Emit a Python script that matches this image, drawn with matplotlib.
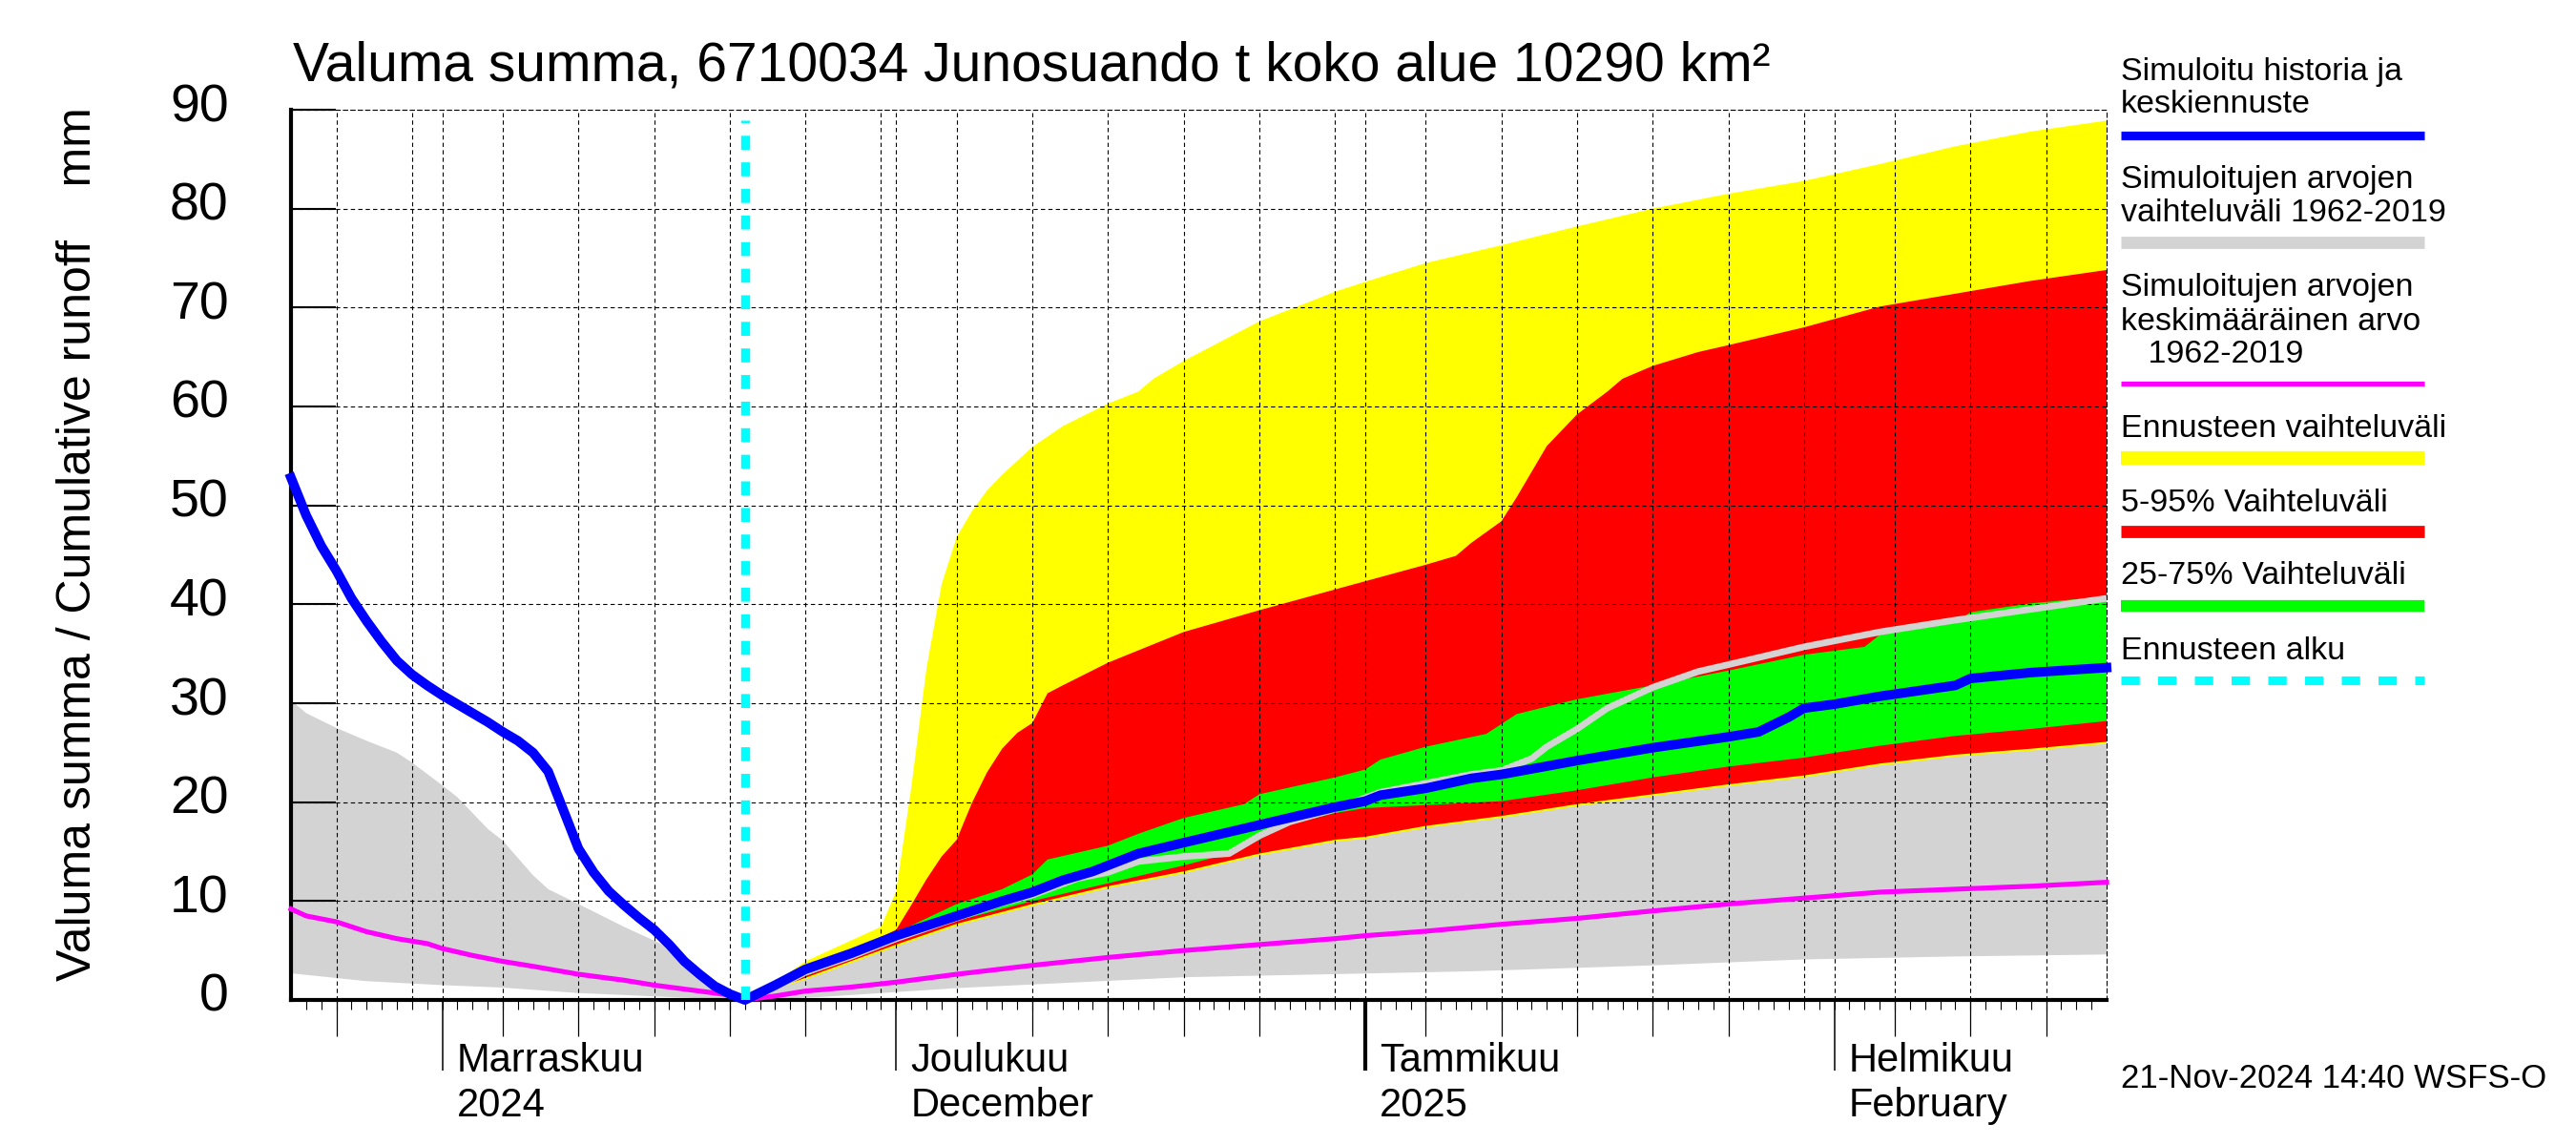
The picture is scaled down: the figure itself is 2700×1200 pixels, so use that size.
import datetime as dt
import numpy as np
import matplotlib
matplotlib.use("Agg")
import matplotlib.pyplot as plt
import matplotlib.dates as mdates
from matplotlib.lines import Line2D
from matplotlib.transforms import ScaledTranslation, blended_transform_factory

FONT = ["Liberation Sans", "DejaVu Sans"]
plt.rcParams["font.family"] = FONT

# ---------------- data (day offsets from 1 Nov 2024) ----------------
hist_days = [-10, -9, -8, -7, -6, -5, -4, -3, -2, -1, 0, 1, 2, 3, 4, 5, 6, 7, 8, 9,
             10, 11, 12, 13, 14, 15, 16, 17, 18, 19, 20]
hist_blue = [52.8, 49.0, 45.9, 43.4, 40.6, 38.3, 36.2, 34.3, 32.9, 31.8, 30.8, 29.9,
             29.0, 28.1, 27.1, 26.2, 25.0, 23.1, 19.2, 15.3, 12.9, 11.0, 9.6, 8.3,
             7.1, 5.6, 3.9, 2.6, 1.4, 0.6, 0.0]

fc_days = [20, 22, 24, 27, 30, 34, 37, 39, 41, 43, 44, 46, 49, 54, 59, 61, 62, 65,
           68, 70, 75, 80, 85, 87, 89, 90, 92, 95, 100, 101, 105, 110]
fc_blue = [0.0, 1.5, 3.1, 4.7, 6.5, 8.5, 10.0, 10.9, 12.1, 13.0, 13.6, 14.8, 15.9,
           17.7, 19.5, 20.1, 20.7, 21.4, 22.4, 22.8, 24.2, 25.5, 26.6, 27.1, 28.6,
           29.5, 29.9, 30.7, 31.8, 32.5, 33.1, 33.6]

mean_days = [-10, -9, -7, -5, -3, -1, 0, 2, 4, 6, 9, 12, 14, 17, 19, 20, 22, 24, 27,
             30, 34, 39, 44, 49, 54, 59, 61, 65, 70, 75, 80, 85, 90, 95, 100, 105, 110]
mean_vals = [9.2, 8.5, 7.9, 6.9, 6.2, 5.7, 5.2, 4.5, 3.9, 3.4, 2.6, 2.0, 1.5, 0.9,
             0.5, 0.0, 0.4, 0.9, 1.3, 1.8, 2.6, 3.5, 4.3, 5.0, 5.6, 6.2, 6.5, 6.95,
             7.65, 8.25, 9.0, 9.7, 10.3, 10.9, 11.2, 11.5, 11.9]

hmax_days = [-10, -9, -7, -5, -3, -2, 0, 1, 3, 4, 6, 7, 9, 12, 15, 17, 19, 20, 22,
             24, 27, 30, 34, 37, 39, 42, 44, 46, 49, 52, 54, 56, 59, 62, 65, 68, 70,
             72, 73, 75, 77, 80, 83, 85, 90, 95, 100, 105, 110]
hmax_vals = [30.3, 29.0, 27.5, 26.2, 25.0, 24.0, 21.7, 20.5, 17.3, 16.1, 12.6, 11.2,
             9.7, 7.4, 5.3, 2.5, 0.8, 0.0, 1.2, 2.8, 4.4, 6.2, 8.3, 9.8, 10.6, 12.3,
             12.9, 14.0, 14.5, 14.8, 16.6, 18.0, 19.3, 21.0, 21.9, 22.8, 23.2, 24.4,
             25.6, 27.4, 29.5, 31.6, 33.2, 33.9, 35.7, 37.2, 38.4, 39.5, 40.6]

hmin_days = [-10, -5, 0, 4, 9, 15, 20, 25, 34, 49, 68, 80, 90, 100, 110]
hmin_vals = [2.7, 1.9, 1.5, 1.25, 0.7, 0.3, 0.0, 0.3, 1.2, 2.3, 2.9, 3.5, 4.1, 4.4, 4.6]

ymax_days = [20, 22, 24, 27, 29, 30, 31, 32, 33, 34, 35, 36, 37, 39, 41, 44, 46, 47,
             49, 54, 59, 61, 65, 70, 75, 80, 85, 90, 95, 100, 105, 110]
ymax_vals = [0.0, 1.8, 3.9, 6.0, 7.4, 11.0, 21.5, 33.5, 42.0, 46.8, 49.4, 51.5, 53.1,
             55.9, 58.0, 60.3, 61.5, 62.8, 64.6, 68.6, 71.6, 72.6, 74.5, 76.3, 78.2,
             80.0, 81.5, 82.8, 84.5, 86.3, 87.8, 88.9]

ymin_days = [20, 25, 30, 34, 39, 44, 49, 54, 59, 61, 65, 70, 75, 80, 85, 90, 95, 100,
             105, 110]
ymin_vals = [0.0, 2.6, 5.4, 7.5, 9.5, 11.3, 12.8, 14.6, 16.0, 16.3, 17.4, 18.4, 19.6,
             20.6, 21.6, 22.5, 23.7, 24.6, 25.2, 25.9]

r95_days = [20, 24, 28, 30, 31, 32, 33, 34, 35, 36, 37, 38, 39, 40, 41, 44, 49, 54,
            59, 65, 67, 68, 70, 71, 73, 75, 77, 78, 80, 83, 85, 90, 95, 100, 105, 110]
r95_vals = [0.0, 3.3, 5.6, 7.1, 9.6, 12.2, 14.5, 16.2, 19.9, 23.0, 25.4, 27.0, 28.0,
            31.0, 31.8, 34.1, 37.2, 39.4, 41.5, 44.0, 44.9, 46.2, 48.4, 50.8, 56.0,
            59.2, 61.5, 62.8, 64.1, 65.5, 66.2, 68.0, 70.1, 71.4, 72.7, 73.8]

r05_days = [20, 25, 30, 34, 39, 44, 49, 54, 59, 61, 65, 70, 75, 80, 85, 90, 95, 100,
            105, 110]
r05_vals = [0.0, 2.8, 5.6, 7.7, 9.7, 11.5, 13.0, 14.8, 16.2, 16.5, 17.6, 18.6, 19.8,
            20.8, 21.8, 22.7, 23.9, 24.8, 25.4, 26.1]

g75_days = [20, 25, 30, 34, 37, 39, 40, 44, 46, 49, 53, 54, 59, 61, 62, 65, 69, 71,
            75, 80, 85, 90, 94, 95, 100, 101, 105, 110]
g75_vals = [0.0, 3.8, 6.8, 9.7, 11.2, 12.7, 14.2, 15.6, 16.8, 18.4, 19.8, 20.8, 22.5,
            23.3, 24.3, 25.6, 26.9, 28.9, 30.4, 31.8, 33.3, 34.9, 35.7, 36.9, 38.1,
            39.2, 40.1, 40.8]

g25_days = [20, 25, 30, 34, 39, 44, 49, 52, 54, 55, 59, 61, 65, 70, 75, 80, 85, 90,
            95, 100, 105, 110]
g25_vals = [0.0, 3.0, 6.0, 8.0, 10.0, 11.8, 13.6, 14.8, 16.2, 17.4, 18.9, 19.4, 19.7,
            20.1, 21.2, 22.5, 23.6, 24.5, 25.7, 26.7, 27.4, 28.2]

month_starts = ["2024-11-01", "2024-12-01", "2025-01-01", "2025-02-01"]
month_names = ["Marraskuu", "Joulukuu", "Tammikuu", "Helmikuu"]
month_sub = ["2024", "December", "2025", "February"]
y_ticks = [0, 10, 20, 30, 40, 50, 60, 70, 80, 90]

title = "Valuma summa, 6710034 Junosuando t koko alue 10290 km\u00b2"
ylabel = "Valuma summa / Cumulative runoff    mm"
stamp = "21-Nov-2024 14:40 WSFS-O"

legend_entries = [
    (["Simuloitu historia ja", "keskiennuste"], "#0000ff", 6.6, "solid"),
    (["Simuloitujen arvojen", "vaihteluväli 1962-2019"], "#d3d3d3", 9.2, "solid"),
    (["Simuloitujen arvojen", "keskimääräinen arvo", "   1962-2019"], "#ff00ff", 3.7, "solid"),
    (["Ennusteen vaihteluväli"], "#ffff00", 10.3, "solid"),
    (["5-95% Vaihteluväli"], "#ff0000", 9.2, "solid"),
    (["25-75% Vaihteluväli"], "#00ff00", 8.8, "solid"),
    (["Ennusteen alku"], "#00ffff", 6.6, "dashed"),
]

# ---------------- helpers ----------------
BASE = dt.datetime(2024, 11, 1)
START = dt.datetime(2024, 10, 22)
END = dt.datetime(2025, 2, 19)
FC_START = dt.datetime(2024, 11, 21)
b0 = mdates.date2num(BASE)


def xn(days):
    return b0 + np.asarray(days, dtype=float)


W, H = 2700, 1200
fig = plt.figure(figsize=(27, 12), dpi=100)
L, R, T, B = 305, 2208, 115, 1048
ax = fig.add_axes([L / W, 1 - B / H, (R - L) / W, (B - T) / H])
x0, x1 = mdates.date2num(START), mdates.date2num(END)
ax.set_xlim(x0, x1)
ax.set_ylim(0, 90)


def band(dl, vl, du, vu, color, z):
    xs = np.concatenate([xn(du), xn(dl)[::-1]])
    ys = np.concatenate([np.asarray(vu), np.asarray(vl)[::-1]])
    ax.fill(xs, ys, color=color, lw=0, zorder=z)


band(hmin_days, hmin_vals, hmax_days, hmax_vals, "#d3d3d3", 1.0)
band(ymin_days, ymin_vals, ymax_days, ymax_vals, "#ffff00", 1.1)
band(r05_days, r05_vals, r95_days, r95_vals, "#ff0000", 1.2)
band(g25_days, g25_vals, g75_days, g75_vals, "#00ff00", 1.3)

# grey max line over the forecast fills
hd = np.asarray(hmax_days)
hv = np.asarray(hmax_vals)
sel = hd >= 20
ax.plot(xn(hd[sel]), hv[sel], color="#d3d3d3", lw=5, zorder=2.2, solid_capstyle="butt")

ax.plot(xn(mean_days), mean_vals, color="#ff00ff", lw=3.7, zorder=3, clip_on=False)
ax.plot(xn(hist_days + fc_days[1:]), hist_blue + fc_blue[1:], color="#0000ff", lw=7.2,
        zorder=4, clip_on=False, solid_joinstyle="round")
ax.axvline(mdates.date2num(FC_START), ymin=0, ymax=0.988, color="#00ffff", lw=6.8,
           dashes=(1.55, 1.4), zorder=5)

# ---------------- axes styling ----------------
ax.set_axisbelow("line")
ax.set_yticks(y_ticks)
ax.tick_params(axis="y", direction="in", length=34, width=1.5, labelsize=40, pad=47)
ax.yaxis.grid(True, color="black", lw=0.8, ls=(0, (4, 3)))

grid_dates = []
for (yy, mm) in [(2024, 10), (2024, 11), (2024, 12), (2025, 1), (2025, 2)]:
    for d in [1, 5, 10, 15, 20, 25, 30]:
        try:
            dd = dt.datetime(yy, mm, d)
        except ValueError:
            continue
        if START < dd < END:
            grid_dates.append(mdates.date2num(dd))
ax.xaxis.remove_overlapping_locs = False
ax.set_xticks(grid_dates)
ax.set_xticks(np.arange(x0 + 1, x1), minor=True)
ax.tick_params(axis="x", which="major", length=0, labelbottom=False)
ax.tick_params(axis="x", which="minor", length=7, width=0.8, direction="out")
ax.xaxis.grid(True, which="major", color="black", lw=0.8, ls=(0, (4, 3)))

five = [mdates.date2num(v) for v in
        [dt.datetime(2024, 10, 25)] +
        [dt.datetime(y, m, d) for (y, m) in [(2024, 11), (2024, 12), (2025, 1), (2025, 2)]
         for d in [5, 10, 15, 20, 25]]
        if mdates.date2num(v) < x1]
sec5 = ax.secondary_xaxis("bottom")
sec5.set_xticks(five)
sec5.tick_params(axis="x", length=27, width=0.9, labelbottom=False, direction="out")
sec5.spines["bottom"].set_visible(False)

ms = [mdates.date2num(dt.datetime.fromisoformat(s)) for s in month_starts]
secm = ax.secondary_xaxis("bottom")
secm.set_xticks(ms)
secm.tick_params(axis="x", length=53, width=1.1, labelbottom=False, direction="out")
secm.spines["bottom"].set_visible(False)

secy = ax.secondary_xaxis("bottom")
secy.set_xticks([mdates.date2num(dt.datetime(2025, 1, 1))])
secy.tick_params(axis="x", length=53, width=3.0, labelbottom=False, direction="out")
secy.spines["bottom"].set_visible(False)

for s in ["left", "bottom"]:
    ax.spines[s].set_linewidth(3)
for s in ["top", "right"]:
    ax.spines[s].set_linewidth(0.8)
    ax.spines[s].set_linestyle((0, (4, 3)))

trans = blended_transform_factory(ax.transData, ax.transAxes)
for m, n1, n2 in zip(ms, month_names, month_sub):
    off1 = trans + ScaledTranslation(15 / 100, -75 / 100, fig.dpi_scale_trans)
    off2 = trans + ScaledTranslation(15 / 100, -122 / 100, fig.dpi_scale_trans)
    ax.text(m, 0, n1, transform=off1, fontsize=30, ha="left", va="baseline")
    ax.text(m, 0, n2, transform=off2, fontsize=30, ha="left", va="baseline")

for lab in ax.get_yticklabels():
    lab.set_transform(lab.get_transform() + ScaledTranslation(0, 8 / 100, fig.dpi_scale_trans))

# ---------------- texts ----------------
fig.text(307 / W, 1 - 85 / H, title, fontsize=41, ha="left", va="baseline")
fig.text(82 / W, 0.525, ylabel, rotation=90, fontsize=36, ha="center", va="center")
fig.text(2223 / W, 1 - 1140 / H, stamp, fontsize=25, ha="left", va="baseline")

# ---------------- legend ----------------
text_base = [[84, 118], [197, 232], [310, 346, 380], [458], [536], [612], [691]]
line_y = [142, 254, 402, 480, 557, 635, 713]
for (lines, col, lw, style), bases, ly in zip(legend_entries, text_base, line_y):
    for t, by in zip(lines, bases):
        fig.text(2223 / W, 1 - by / H, t, fontsize=24.5, ha="left", va="baseline")
    kw = {}
    if style == "dashed":
        kw["dashes"] = (2.1, 2.1)
    fig.add_artist(Line2D([2223 / W, 2541 / W], [1 - ly / H, 1 - ly / H], color=col,
                          lw=lw, solid_capstyle="butt", transform=fig.transFigure, **kw))

fig.savefig("out.png", dpi=100)
